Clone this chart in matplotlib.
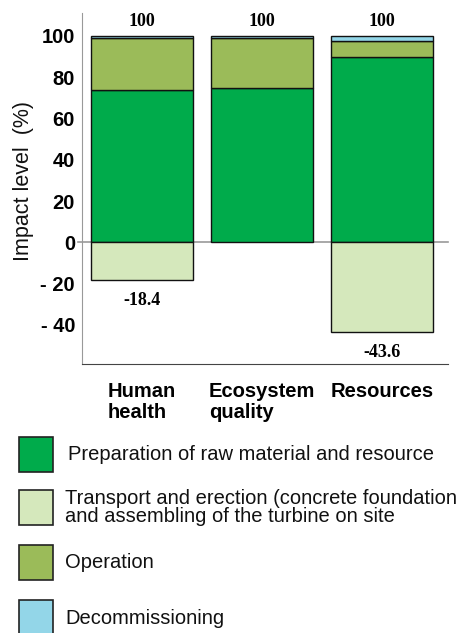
import matplotlib.pyplot as plt
from matplotlib.patches import Rectangle
import numpy as np

categories = ["Human\nhealth", "Ecosystem\nquality", "Resources"]
preparation = [74.0, 75.0, 90.0]
transport = [-18.4, 0.0, -43.6]
operation = [25.2, 24.2, 7.5]
decommissioning = [0.8, 0.8, 2.5]
totals = [100, 100, 100]
neg_labels = ["-18.4", "", "-43.6"]

legend_labels = [
    "Preparation of raw material and resource",
    "Transport and erection (concrete foundation\nand assembling of the turbine on site",
    "Operation",
    "Decommissioning",
]
colors = ["#00ab4b", "#d5e8bc", "#9bbb59", "#93d6e8"]

plt.rcParams["font.family"] = ["Liberation Sans", "DejaVu Sans"]

fig = plt.figure(figsize=(4.7, 6.33), dpi=100)
ax = fig.add_axes([0.1745, 0.425, 0.7785, 0.554])

x = np.arange(len(categories))
w = 0.85
prep = np.array(preparation)
op = np.array(operation)
ax.bar(x, prep, w, color=colors[0], edgecolor="#111111", linewidth=1)
ax.bar(x, op, w, bottom=prep, color=colors[2], edgecolor="#111111", linewidth=1)
ax.bar(x, decommissioning, w, bottom=prep + op, color=colors[3],
       edgecolor="#111111", linewidth=1)
tr = np.array(transport)
mask = tr != 0
ax.bar(x[mask], tr[mask], w, color=colors[1], edgecolor="#111111", linewidth=1)

for i in range(len(categories)):
    ax.text(x[i], totals[i] + 3.0, str(totals[i]), ha="center", va="bottom",
            family="Liberation Serif", weight="bold", fontsize=13)
    if neg_labels[i]:
        ax.text(x[i], transport[i] - 5.5, neg_labels[i], ha="center", va="top",
                family="Liberation Serif", weight="bold", fontsize=13)

ax.axhline(0, xmin=-0.01, color="#9a9a9a", linewidth=1.2, zorder=0, clip_on=False)
ax.set_xlim(-0.5, 2.55)
ax.set_ylim(-59, 111)

yt = [100, 80, 60, 40, 20, 0, -20, -40]
ax.set_yticks(yt)
ax.set_yticklabels([str(v) if v >= 0 else "- " + str(-v) for v in yt],
                   fontsize=14.5, weight="bold")
ax.set_xticks(x)
ax.set_xticklabels(categories, fontsize=14.5, weight="bold", ha="center",
                   multialignment="left", linespacing=1.1)
ax.tick_params(axis="y", length=0, pad=5)
ax.tick_params(axis="x", length=0, pad=13)

ax.spines["top"].set_visible(False)
ax.spines["right"].set_visible(False)
ax.spines["left"].set_color("#999999")
ax.spines["bottom"].set_color("#444444")
fig.text(24 / 470, 1 - 181 / 633, "Impact level  (%)", rotation=90,
         ha="center", va="center", fontsize=15.5, color="#111111")

# legend boxes
box_tops = [437, 490, 545, 600]
text_y = [[455], [498, 517], [563], [619]]
for i, lab in enumerate(legend_labels):
    top = box_tops[i]
    fig.add_artist(Rectangle((19 / 470, 1 - (top + 35) / 633), 34 / 470, 35 / 633,
                             transform=fig.transFigure, facecolor=colors[i],
                             edgecolor="#222222", linewidth=1.2))
    lines = lab.split("\n")
    for j, line in enumerate(lines):
        xpos = 68 if i == 0 else 65
        fig.text(xpos / 470, 1 - text_y[i][j] / 633, line, ha="left",
                 va="center", fontsize=14.5, color="#111111")

fig.savefig("out.png", dpi=100)
